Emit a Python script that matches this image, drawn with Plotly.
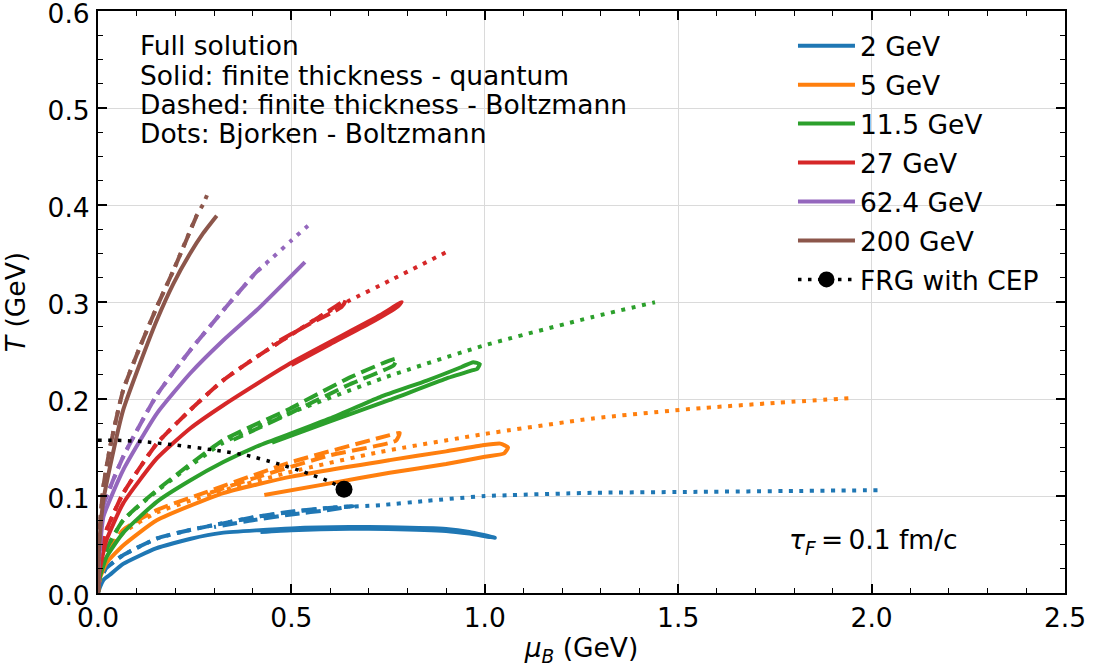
import plotly.graph_objects as go

# ---------------- data (mu_B in GeV, T in GeV) ----------------
energies = ["2 GeV", "5 GeV", "11.5 GeV", "27 GeV", "62.4 GeV", "200 GeV"]
colors = ["#1f77b4", "#ff7f0e", "#2ca02c", "#d62728", "#9467bd", "#8c564b"]

x_ticks = [0.0, 0.5, 1.0, 1.5, 2.0, 2.5]
y_ticks = [0.0, 0.1, 0.2, 0.3, 0.4, 0.5, 0.6]

# 2 GeV
mu_2_solid = [0, 0.005, 0.015, 0.03, 0.065, 0.15, 0.24, 0.32, 0.5, 0.65, 0.75, 0.9, 0.96, 1.026,
              0.96, 0.9, 0.75, 0.65, 0.5, 0.42]
T_2_solid = [0, 0.006, 0.014, 0.0185, 0.030, 0.046, 0.056, 0.062, 0.0666, 0.068, 0.0677, 0.066, 0.063, 0.057,
             0.0612, 0.0640, 0.0660, 0.0662, 0.0648, 0.0630]
mu_2_dash = [0, 0.005, 0.02, 0.065, 0.152, 0.238, 0.323, 0.41, 0.496, 0.582, 0.66, 0.6, 0.5, 0.4, 0.3]
T_2_dash = [0, 0.012, 0.025, 0.039, 0.0563, 0.065, 0.0718, 0.0786, 0.0837, 0.0872, 0.0896, 0.0858, 0.0810, 0.0750, 0.0680]
mu_2_dot = [0, 0.005, 0.02, 0.065, 0.152, 0.238, 0.323, 0.41, 0.5, 0.6, 0.73, 0.85, 1.0, 1.28, 1.56, 1.8, 2.02]
T_2_dot = [0, 0.012, 0.025, 0.039, 0.056, 0.065, 0.072, 0.0785, 0.0835, 0.0878, 0.0906, 0.095, 0.0999, 0.1033, 0.1043, 0.1052, 0.106]

# 5 GeV
mu_5_solid = [0, 0.004, 0.022, 0.065, 0.152, 0.324, 0.5, 0.754, 0.9, 0.99, 1.04, 1.06, 1.05, 1.0, 0.9, 0.754, 0.6, 0.43]
T_5_solid = [0, 0.014, 0.031, 0.049, 0.075, 0.103, 0.12, 0.137, 0.146, 0.152, 0.154, 0.150, 0.144, 0.1405, 0.133, 0.124, 0.113, 0.101]
mu_5_dash = [0, 0.005, 0.02, 0.065, 0.152, 0.28, 0.5, 0.754, 0.78, 0.77, 0.6, 0.4, 0.28]
T_5_dash = [0, 0.018, 0.04, 0.065, 0.0855, 0.104, 0.135, 0.1627, 0.165, 0.157, 0.142, 0.118, 0.102]
mu_5_dot = [0, 0.005, 0.02, 0.065, 0.152, 0.3, 0.5, 0.73, 1.0, 1.28, 1.54, 1.75, 1.95]
T_5_dot = [0, 0.016, 0.037, 0.062, 0.083, 0.103, 0.125, 0.1455, 0.164, 0.18, 0.19, 0.196, 0.201]

# 11.5 GeV
mu_11_solid = [0, 0.004, 0.022, 0.065, 0.152, 0.238, 0.324, 0.41, 0.496, 0.6, 0.729, 0.85, 0.94, 0.97, 0.987,
               0.98, 0.969, 0.9, 0.754, 0.6, 0.45]
T_11_solid = [0, 0.015, 0.037, 0.062, 0.094, 0.116, 0.135, 0.151, 0.164, 0.18, 0.202, 0.219, 0.233, 0.238, 0.236,
              0.231, 0.2297, 0.221, 0.199, 0.177, 0.155]
mu_11_dash = [0, 0.005, 0.022, 0.065, 0.152, 0.324, 0.496, 0.65, 0.772, 0.765, 0.65, 0.5, 0.35]
T_11_dash = [0, 0.02, 0.045, 0.075, 0.106, 0.1576, 0.19, 0.222, 0.2417, 0.235, 0.215, 0.186, 0.158]
mu_11_dot = [0, 0.005, 0.022, 0.065, 0.152, 0.324, 0.5, 0.746, 1.0, 1.279, 1.44]
T_11_dot = [0, 0.02, 0.045, 0.075, 0.105, 0.155, 0.186, 0.2228, 0.2554, 0.2846, 0.2997]

# 27 GeV
mu_27_solid = [0, 0.003, 0.01, 0.022, 0.065, 0.152, 0.238, 0.324, 0.496, 0.729, 0.785, 0.775, 0.7, 0.6, 0.5]
T_27_solid = [0, 0.02, 0.035, 0.0546, 0.0924, 0.1387, 0.1696, 0.1936, 0.2366, 0.2863, 0.300, 0.2955, 0.2775, 0.2565, 0.235]
mu_27_dash = [0, 0.003, 0.01, 0.022, 0.065, 0.152, 0.238, 0.324, 0.41, 0.496, 0.582, 0.64, 0.63, 0.55, 0.45]
T_27_dash = [0, 0.025, 0.045, 0.065, 0.1027, 0.154, 0.1885, 0.2194, 0.2434, 0.2655, 0.287, 0.302, 0.295, 0.278, 0.256]
mu_27_dot = [0, 0.003, 0.01, 0.022, 0.065, 0.152, 0.238, 0.324, 0.41, 0.496, 0.582, 0.651, 0.754, 0.901]
T_27_dot = [0, 0.025, 0.045, 0.065, 0.1027, 0.154, 0.1885, 0.2194, 0.2434, 0.2655, 0.287, 0.3017, 0.322, 0.3515]

# 62.4 GeV
mu_62_solid = [0, 0.002, 0.006, 0.014, 0.065, 0.152, 0.238, 0.324, 0.41, 0.535]
T_62_solid = [0, 0.03, 0.05, 0.0786, 0.1267, 0.185, 0.2263, 0.2606, 0.2915, 0.3412]
mu_62_dash = [0, 0.002, 0.006, 0.014, 0.065, 0.152, 0.238, 0.324, 0.41, 0.436]
T_62_dash = [0, 0.035, 0.06, 0.09, 0.1404, 0.204, 0.25, 0.2915, 0.3310, 0.3396]
mu_62_dot = [0, 0.002, 0.006, 0.014, 0.065, 0.152, 0.238, 0.324, 0.41, 0.453, 0.5, 0.556]
T_62_dot = [0, 0.035, 0.06, 0.09, 0.1404, 0.204, 0.25, 0.2915, 0.3310, 0.3464, 0.3635, 0.3834]

# 200 GeV
mu_200_solid = [0, 0.001, 0.005, 0.014, 0.031, 0.065, 0.1085, 0.152, 0.195, 0.238, 0.272, 0.307]
T_200_solid = [0, 0.03, 0.06, 0.0958, 0.13, 0.1885, 0.2366, 0.2812, 0.319, 0.350, 0.371, 0.389]
mu_200_dash = [0, 0.001, 0.005, 0.014, 0.031, 0.065, 0.1085, 0.152, 0.195, 0.255]
T_200_dash = [0, 0.035, 0.07, 0.11, 0.15, 0.209, 0.2537, 0.2949, 0.3326, 0.389]
mu_200_dot = [0, 0.001, 0.005, 0.014, 0.031, 0.065, 0.1085, 0.152, 0.195, 0.255, 0.272, 0.287]
T_200_dot = [0, 0.035, 0.07, 0.11, 0.15, 0.209, 0.2537, 0.2949, 0.3326, 0.389, 0.401, 0.415]

# FRG crossover line with critical end point
mu_frg = [0, 0.05, 0.117, 0.203, 0.307, 0.384, 0.462, 0.531, 0.6, 0.636]
T_frg = [0.1576, 0.1575, 0.156, 0.1524, 0.147, 0.142, 0.1336, 0.125, 0.1147, 0.107]
mu_cep = [0.636]
T_cep = [0.107]

solid_x = [mu_2_solid, mu_5_solid, mu_11_solid, mu_27_solid, mu_62_solid, mu_200_solid]
solid_y = [T_2_solid, T_5_solid, T_11_solid, T_27_solid, T_62_solid, T_200_solid]
dash_x = [mu_2_dash, mu_5_dash, mu_11_dash, mu_27_dash, mu_62_dash, mu_200_dash]
dash_y = [T_2_dash, T_5_dash, T_11_dash, T_27_dash, T_62_dash, T_200_dash]
dot_x = [mu_2_dot, mu_5_dot, mu_11_dot, mu_27_dot, mu_62_dot, mu_200_dot]
dot_y = [T_2_dot, T_5_dot, T_11_dot, T_27_dot, T_62_dot, T_200_dot]

# ---------------- figure ----------------
FONT = "DejaVu Sans"
FS = 26.5
LW = 4
DOT = "4px,6.6px"
DASH = "14.8px,6.4px"

fig = go.Figure()
for i, name in enumerate(energies):
    grp = "g%d" % i
    fig.add_trace(go.Scatter(x=solid_x[i], y=solid_y[i], mode="lines", name=name,
                             legendgroup=grp, line=dict(color=colors[i], width=LW, shape="spline", smoothing=0.5)))
    fig.add_trace(go.Scatter(x=dash_x[i], y=dash_y[i], mode="lines", showlegend=False,
                             legendgroup=grp, line=dict(color=colors[i], width=LW, dash=DASH, shape="spline", smoothing=0.5)))
    fig.add_trace(go.Scatter(x=dot_x[i], y=dot_y[i], mode="lines", showlegend=False,
                             legendgroup=grp, line=dict(color=colors[i], width=LW, dash=DOT, shape="spline", smoothing=0.5)))

fig.add_trace(go.Scatter(x=mu_frg, y=T_frg, mode="lines", showlegend=False, legendgroup="frg",
                         line=dict(color="black", width=3.5, dash="3.5px,6.5px", shape="spline", smoothing=0.5)))
fig.add_trace(go.Scatter(x=mu_cep, y=T_cep, mode="lines+markers", name="FRG with CEP", legendgroup="frg",
                         line=dict(color="black", width=3.5, dash="3.5px,6.5px"),
                         marker=dict(color="black", size=17)))

axis_common = dict(
    showline=True, linecolor="black", linewidth=2, mirror="allticks",
    ticks="inside", ticklen=9, tickwidth=1.6, tickcolor="black",
    showgrid=True, gridcolor="#dadada", gridwidth=1, zeroline=False,
    tickfont=dict(family=FONT, size=FS, color="black"),
    tickmode="array", ticklabeloverflow="allow",
)

fig.update_xaxes(range=[0, 2.5], tickvals=x_ticks, ticktext=["%.1f" % v for v in x_ticks],
                 minor=dict(dtick=0.1, tick0=0, ticks="inside", ticklen=5, tickwidth=1.3, tickcolor="black", showgrid=False),
                 title=dict(text="<i>μ</i><sub><i>B</i></sub> (GeV)", font=dict(family=FONT, size=FS, color="black"), standoff=10),
                 ticklabelstandoff=0,
                 **axis_common)
fig.update_yaxes(range=[0, 0.6], tickvals=y_ticks, ticktext=["%.1f" % v for v in y_ticks],
                 minor=dict(dtick=0.025, tick0=0, ticks="inside", ticklen=5, tickwidth=1.3, tickcolor="black", showgrid=False),
                 title=dict(text="<i>T</i> (GeV)", font=dict(family=FONT, size=FS, color="black"), standoff=18),
                 ticklabelstandoff=1, ticklabelshift=3,
                 **axis_common)

fig.update_layout(
    width=1093, height=667,
    margin=dict(l=98, r=28, t=11, b=74, autoexpand=False),
    paper_bgcolor="white", plot_bgcolor="white",
    font=dict(family=FONT, size=FS, color="black"),
    legend=dict(x=0.7187, y=0.9811, xanchor="left", yanchor="top",
                bgcolor="rgba(0,0,0,0)", borderwidth=0, tracegroupgap=1.5,
                traceorder="grouped", itemwidth=57,
                font=dict(family=FONT, size=FS, color="black")),
)

text_lines = ["Full solution", "Solid: finite thickness - quantum",
              "Dashed: finite thickness - Boltzmann", "Dots: Bjorken - Boltzmann"]
line_y = [0.9399, 0.8895, 0.8392, 0.7887]
for t, yy in zip(text_lines, line_y):
    fig.add_annotation(text=t, xref="paper", yref="paper", x=0.0414, y=yy,
                       xanchor="left", yanchor="middle", showarrow=False,
                       font=dict(family=FONT, size=FS, color="black"))

fig.add_annotation(text="<i>τ</i><sub><i>F</i></sub>\u2009=\u20090.1 fm/c", xref="paper", yref="paper",
                   x=0.802, y=0.0893, xanchor="center", yanchor="middle", showarrow=False,
                   font=dict(family=FONT, size=FS, color="black"))

fig.write_html("out.html", config={"displayModeBar": False},
               post_script="document.body.style.margin='0px';")
